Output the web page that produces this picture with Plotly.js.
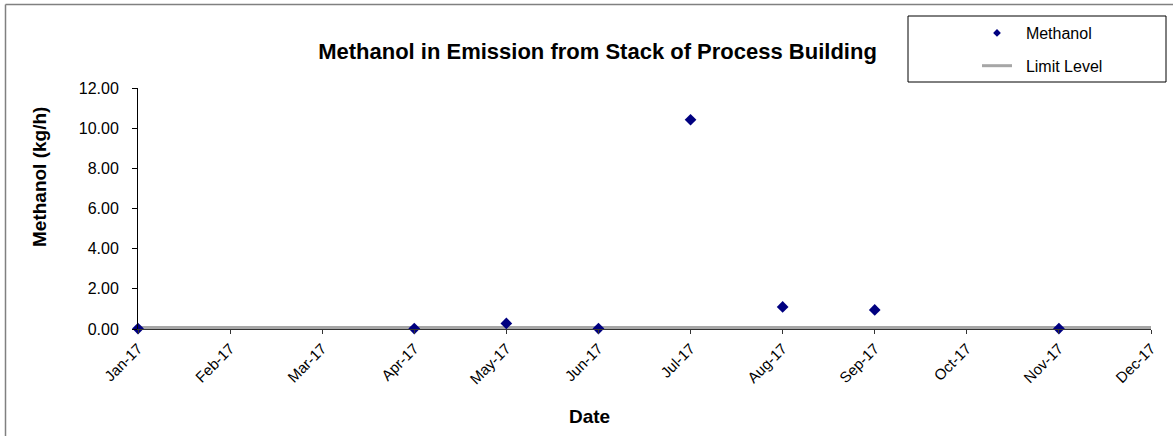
<!DOCTYPE html>
<html>
<head>
<meta charset="utf-8">
<script src="https://cdn.plot.ly/plotly-3.0.1.min.js"></script>
<style>html,body{margin:0;padding:0;background:#fff;}#chart{width:1173px;height:436px;}</style>
</head>
<body>
<div id="chart"></div>
<script>
// Month categories (x axis, equally spaced months)
const months = ['Jan-17','Feb-17','Mar-17','Apr-17','May-17','Jun-17','Jul-17','Aug-17','Sep-17','Oct-17','Nov-17','Dec-17'];
// Sampled months and methanol emission (kg/h)
const sampleMonths = ['Jan-17','Apr-17','May-17','Jun-17','Jul-17','Aug-17','Sep-17','Nov-17'];
const methanol = [0.02, 0.02, 0.28, 0.02, 10.42, 1.1, 0.95, 0.02];
// Limit level (kg/h)
const limitMonths = ['Jan-17','Dec-17'];
const limitLevel = [0.08, 0.08];
const yTicks = [0, 2, 4, 6, 8, 10, 12];

const L = 138, R = 22, T = 88, B = 107, W = 1173, H = 436;
const pw = W - L - R, ph = H - T - B;
const px = x => (x - L) / pw;
const py = y => (H - B - y) / ph;

const traces = [
  {x: limitMonths, y: limitLevel, type: 'scatter', mode: 'lines', name: 'Limit Level',
   line: {color: '#a6a6a6', width: 3}, showlegend: false, hoverinfo: 'skip', cliponaxis: false},
  {x: sampleMonths, y: methanol, type: 'scatter', mode: 'markers', name: 'Methanol',
   marker: {symbol: 'diamond', color: '#000080', size: 9}, showlegend: false, cliponaxis: false},
  {x: [null], y: [null], type: 'scatter', mode: 'markers', name: '\u00a0\u00a0Methanol', legendgroup: 'a',
   marker: {symbol: 'diamond', color: '#000080', size: 6}},
  {x: [null], y: [null], type: 'scatter', mode: 'lines', name: '\u00a0\u00a0Limit Level', legendgroup: 'b',
   line: {color: '#a6a6a6', width: 3}}
];

const layout = {
  width: W, height: H,
  margin: {l: L, r: R, t: T, b: B, pad: 0},
  paper_bgcolor: '#ffffff', plot_bgcolor: '#ffffff',
  font: {family: 'Liberation Sans, Arial, sans-serif', color: '#000', size: 16},
  title: {text: '<b>Methanol in Emission from Stack of Process Building</b>',
          font: {size: 22, family: 'Liberation Sans, Arial, sans-serif', color: '#000'},
          x: px(597.5), xref: 'paper', xanchor: 'center', y: 1 - 51 / H, yanchor: 'middle'},
  xaxis: {
    type: 'category', categoryorder: 'array', categoryarray: months,
    range: [0, 11], tickmode: 'array', tickvals: months, ticktext: months,
    tickangle: -45, ticks: 'outside', ticklen: 4, tickcolor: '#333', tickwidth: 1,
    showline: true, linecolor: '#333', linewidth: 1, showgrid: false, zeroline: false,
    tickfont: {size: 15}, automargin: false
  },
  yaxis: {
    range: [0, 12], tickmode: 'array', tickvals: yTicks, ticktext: yTicks.map(v => v.toFixed(2)),
    ticks: 'outside', ticklen: 5, tickcolor: '#000', showline: true, linecolor: '#000', linewidth: 1,
    showgrid: false, zeroline: false, tickfont: {size: 16}, ticklabelstandoff: 10, automargin: false
  },
  annotations: [
    {text: '<b>Date</b>', xref: 'paper', yref: 'paper', x: px(589), y: py(416),
     xanchor: 'center', yanchor: 'middle', showarrow: false, font: {size: 19}},
    {text: '<b>Methanol (kg/h)</b>', xref: 'paper', yref: 'paper', x: px(39), y: py(177),
     xanchor: 'center', yanchor: 'middle', showarrow: false, textangle: -90, font: {size: 19}}
  ],
  legend: {x: px(977), xanchor: 'left', y: py(16), yanchor: 'top', bgcolor: 'rgba(0,0,0,0)',
           borderwidth: 0, font: {size: 16}, tracegroupgap: 9},
  shapes: [
    {type: 'rect', xref: 'paper', yref: 'paper', x0: px(908), x1: px(1166), y0: py(82), y1: py(16),
     line: {color: '#000', width: 1}, fillcolor: 'rgba(0,0,0,0)'},
    {type: 'line', xref: 'paper', yref: 'paper', x0: px(5.5), x1: px(1180), y0: py(4.5), y1: py(4.5),
     line: {color: '#808080', width: 1.5}},
    {type: 'line', xref: 'paper', yref: 'paper', x0: px(5.5), x1: px(5.5), y0: py(4.5), y1: py(440),
     line: {color: '#808080', width: 1.5}}
  ],
  showlegend: true
};

Plotly.newPlot('chart', traces, layout, {displayModeBar: false, staticPlot: true});
</script>
</body>
</html>
